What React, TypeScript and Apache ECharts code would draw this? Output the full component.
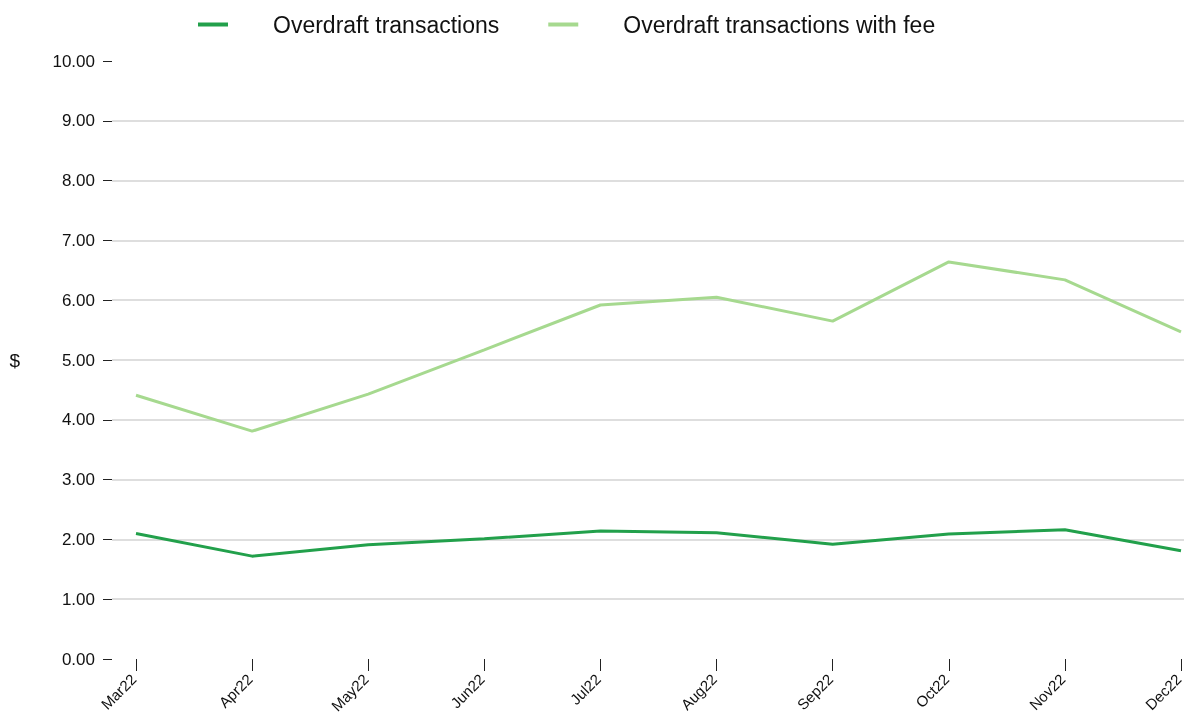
import React, { useEffect, useRef } from "react";
import * as echarts from "echarts";

const categories = ["Mar22", "Apr22", "May22", "Jun22", "Jul22", "Aug22", "Sep22", "Oct22", "Nov22", "Dec22"];
const overdraft = [2.1, 1.72, 1.91, 2.01, 2.14, 2.11, 1.92, 2.09, 2.16, 1.81];
const overdraftWithFee = [4.41, 3.81, 4.43, 5.17, 5.92, 6.05, 5.65, 6.64, 6.34, 5.47];
const seriesNames = ["Overdraft transactions", "Overdraft transactions with fee"];
const colors = ["#22a04b", "#a6d98f"];

export default function App() {
  const ref = useRef<HTMLDivElement>(null);
  useEffect(() => {
    if (!ref.current) return;
    const chart = echarts.init(ref.current, null, { renderer: "svg" });
    const font = "Arial, 'Liberation Sans', sans-serif";
    chart.setOption({
      animation: false,
      color: colors,
      textStyle: { fontFamily: font },
      legend: {
        top: 8,
        left: 193,
        itemWidth: 30,
        itemHeight: 4,
        itemGap: 49,
        icon: "rect",
        textStyle: { fontSize: 23, color: "#111", fontFamily: font, padding: [0, 0, 0, 40] },
        data: seriesNames,
      },
      grid: [
        { left: 112, right: 0, top: 61, bottom: 56, outerBoundsMode: "none", containLabel: false },
        { left: 136, right: 3, top: 61, bottom: 56, outerBoundsMode: "none", containLabel: false },
      ],
      xAxis: [
        { type: "category", gridIndex: 0, data: categories, show: false, boundaryGap: false },
        {
          type: "category",
          gridIndex: 1,
          data: categories,
          boundaryGap: false,
          axisLine: { show: false },
          axisTick: { show: true, length: 12, lineStyle: { color: "#222", width: 1 } },
          axisLabel: {
            rotate: 45,
            fontSize: 15,
            lineHeight: 7,
            verticalAlign: "bottom",
            color: "#111",
            margin: 20,
            fontFamily: font,
            interval: 0,
          },
          splitLine: { show: false },
        },
      ],
      yAxis: [
        {
          type: "value",
          gridIndex: 0,
          min: 0,
          max: 10,
          interval: 1,
          name: "$",
          nameLocation: "middle",
          nameGap: 92,
          nameRotate: 0,
          nameTextStyle: { fontSize: 19, color: "#111", fontFamily: font },
          axisLine: { show: false },
          axisTick: { show: true, length: 9, lineStyle: { color: "#222", width: 1 } },
          axisLabel: { fontSize: 17, color: "#111", margin: 17, fontFamily: font, formatter: (v: number) => v.toFixed(2) },
          splitLine: { show: true, showMinLine: false, showMaxLine: false, lineStyle: { color: "#dedede", width: 2 } },
        },
        {
          type: "value",
          gridIndex: 1,
          min: 0,
          max: 10,
          interval: 1,
          show: false,
          splitLine: { show: false },
        },
      ],
      series: [
        {
          name: seriesNames[0],
          type: "line",
          xAxisIndex: 1,
          yAxisIndex: 1,
          data: overdraft,
          symbol: "none",
          lineStyle: { width: 3, color: colors[0] },
          itemStyle: { color: colors[0] },
          z: 3,
        },
        {
          name: seriesNames[1],
          type: "line",
          xAxisIndex: 1,
          yAxisIndex: 1,
          data: overdraftWithFee,
          symbol: "none",
          lineStyle: { width: 3, color: colors[1] },
          itemStyle: { color: colors[1] },
          z: 2,
        },
      ],
    });
    return () => chart.dispose();
  }, []);
  return <div ref={ref} style={{ position: "fixed", left: 0, top: 0, width: 1184, height: 715 }} />;
}
